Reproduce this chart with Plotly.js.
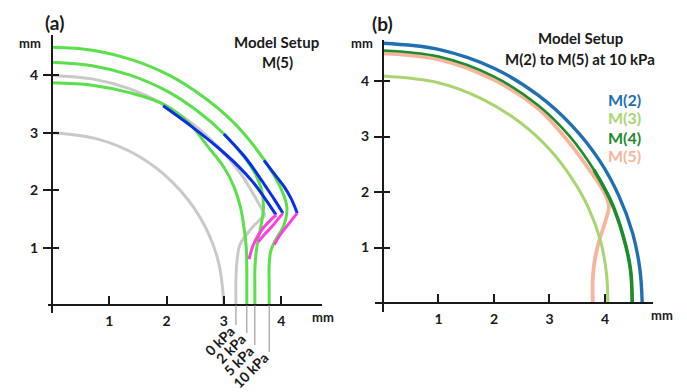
<!DOCTYPE html>
<html><head><meta charset="utf-8">
<script src="https://cdn.plot.ly/plotly-3.0.1.min.js"></script>
<style>html,body{margin:0;padding:0;background:#fff}#chart{width:687px;height:392px}</style>
</head><body><div id="chart"></div>
<script>
// ---------- DATA (mm) ----------
// Panel (a): Model Setup M(5)
const innerGrayX = [0, 0.8, 1.5, 2.1, 2.6, 2.9, 3.0];
const innerGrayY = [3.0, 2.89, 2.6, 2.14, 1.5, 0.77, 0];
const gray0UpX = [0, 0.7, 1.35, 1.94, 2.5, 2.95, 3.3, 3.52, 3.72];
const gray0UpY = [4.0, 3.94, 3.77, 3.5, 3.12, 2.7, 2.28, 1.92, 1.57];
const gray0LoX = [3.72, 3.46, 3.28, 3.23, 3.21, 3.21];
const gray0LoY = [1.57, 1.31, 1.05, 0.78, 0.44, 0];
const g1X = [0, 0.7, 1.35, 1.94, 2.4, 2.72, 3.0, 3.18, 3.29, 3.35, 3.39, 3.40, 3.40, 3.40];
const g1Y = [3.87, 3.83, 3.7, 3.5, 3.16, 2.76, 2.4, 2.05, 1.7, 1.35, 1.0, 0.6, 0.3, 0];
const g2X = [0, 0.7, 1.35, 2.0, 2.55, 3.0, 3.35, 3.55, 3.66, 3.69, 3.66, 3.6, 3.56, 3.54, 3.54, 3.54];
const g2Y = [4.23, 4.17, 4.01, 3.73, 3.37, 2.98, 2.58, 2.28, 2.0, 1.7, 1.45, 1.15, 0.9, 0.6, 0.3, 0];
const g3X = [0, 0.7, 1.4, 2.05, 2.65, 3.15, 3.55, 3.85, 4.03, 4.1, 4.08, 4.02, 3.9, 3.82, 3.79, 3.79, 3.79];
const g3Y = [4.49, 4.44, 4.27, 4.0, 3.62, 3.2, 2.74, 2.3, 1.95, 1.7, 1.5, 1.33, 1.13, 0.95, 0.7, 0.35, 0];
const blue1X = [1.94, 2.45, 2.9, 3.25, 3.5, 3.7, 3.91];
const blue1Y = [3.47, 3.1, 2.74, 2.42, 2.15, 1.88, 1.57];
const pink1X = [3.91, 3.66, 3.51, 3.44];
const pink1Y = [1.57, 1.31, 1.04, 0.8];
const blue2X = [3.0, 3.35, 3.55, 3.72, 3.88, 4.03];
const blue2Y = [2.98, 2.6, 2.33, 2.08, 1.84, 1.6];
const pink2X = [4.03, 3.85, 3.7, 3.6];
const pink2Y = [1.6, 1.38, 1.22, 1.1];
const blue3X = [3.7, 3.9, 4.06, 4.18, 4.28];
const blue3Y = [2.52, 2.26, 2.05, 1.84, 1.6];
const pink3X = [4.28, 4.12, 3.98, 3.88];
const pink3Y = [1.6, 1.4, 1.22, 1.05];
const pressureLabels = ['0 kPa', '2 kPa', '5 kPa', '10 kPa'];

// Panel (b): M(2) to M(5) at 10 kPa
const m2X = [0, 1.0, 2.0, 2.8, 3.4, 3.9, 4.25, 4.5, 4.63, 4.67];
const m2Y = [4.68, 4.57, 4.23, 3.74, 3.2, 2.57, 1.93, 1.25, 0.6, 0];
const m3X = [0, 1.0, 1.8, 2.5, 3.0, 3.4, 3.7, 3.92, 4.03, 4.05];
const m3Y = [4.09, 3.97, 3.67, 3.23, 2.77, 2.25, 1.72, 1.12, 0.5, 0];
const m4X = [0, 1.0, 2.0, 2.8, 3.35, 3.8, 4.1, 4.33, 4.46, 4.49];
const m4Y = [4.55, 4.44, 4.08, 3.56, 3.02, 2.4, 1.85, 1.2, 0.6, 0];
const m5X = [0, 1.0, 2.0, 2.8, 3.3, 3.72, 3.98, 4.07, 4.0, 3.9, 3.82, 3.78, 3.78];
const m5Y = [4.5, 4.39, 4.02, 3.5, 2.96, 2.4, 2.0, 1.75, 1.45, 1.14, 0.8, 0.45, 0];
const modelNames = ['M(2)', 'M(3)', 'M(4)', 'M(5)'];

const tickVals = [1, 2, 3, 4];
const tickText = ['1', '2', '3', '4'];

// ---------- STYLE / LAYOUT ----------
const W = 687, H = 392;
const FONT = 'Lato, "Open Sans", sans-serif';
const INK = '#1a1a1a';
const GREEN = '#5ae04a', BLUE = '#0a2fe6', PINK = '#ff40e0', GRAY = '#c9c9c9';
const C_M2 = '#1f6fb2', C_M3 = '#a9d571', C_M4 = '#1d8c2c', C_M5 = '#f8b59b';

function line(x, y, color, width, xa, ya) {
  return {x: x, y: y, mode: 'lines', type: 'scatter', xaxis: xa, yaxis: ya,
    line: {color: color, width: width, shape: 'spline', smoothing: 1},
    hoverinfo: 'skip', showlegend: false};
}
const traces = [
  line(innerGrayX, innerGrayY, GRAY, 3, 'x', 'y'),
  line(gray0UpX, gray0UpY, GRAY, 3, 'x', 'y'),
  line(gray0LoX, gray0LoY, GRAY, 3, 'x', 'y'),
  line(g1X, g1Y, GREEN, 3, 'x', 'y'),
  line(g2X, g2Y, GREEN, 3, 'x', 'y'),
  line(g3X, g3Y, GREEN, 3, 'x', 'y'),
  line(blue1X, blue1Y, BLUE, 3, 'x', 'y'),
  line(blue2X, blue2Y, BLUE, 3, 'x', 'y'),
  line(blue3X, blue3Y, BLUE, 3, 'x', 'y'),
  line(pink1X, pink1Y, PINK, 3, 'x', 'y'),
  line(pink2X, pink2Y, PINK, 3, 'x', 'y'),
  line(pink3X, pink3Y, PINK, 3, 'x', 'y'),
  line(m5X, m5Y, C_M5, 3.8, 'x2', 'y2'),
  line(m3X, m3Y, C_M3, 3, 'x2', 'y2'),
  line(m4X, m4Y, C_M4, 2.6, 'x2', 'y2'),
  line(m4X.slice(5), m4Y.slice(5), C_M4, 3.6, 'x2', 'y2'),
  line(m2X, m2Y, C_M2, 3.4, 'x2', 'y2'),
  {x: [], y: [], type: 'scatter', xaxis: 'x', yaxis: 'y3', showlegend: false, hoverinfo: 'skip'},
  {x: [], y: [], type: 'scatter', xaxis: 'x2', yaxis: 'y4', showlegend: false, hoverinfo: 'skip'}
];

// panel geometry in pixels
const A = {x0: 48, x1: 322, y0: 313, y1: 35, xr: [-0.070, 4.712], yr: [-0.139, 4.704]};
const B = {x0: 375, x1: 653, y0: 312, y1: 40, xr: [-0.144, 4.865], yr: [-0.162, 4.739]};
function pxX(P, v) { return P.x0 + (v - P.xr[0]) / (P.xr[1] - P.xr[0]) * (P.x1 - P.x0); }
function pxY(P, v) { return P.y0 - (v - P.yr[0]) / (P.yr[1] - P.yr[0]) * (P.y0 - P.y1); }
const tf = {family: FONT, size: 14, color: INK, weight: 'bold'};

function xAxis(P) {
  return {domain: [P.x0 / W, P.x1 / W], range: P.xr, anchor: 'free', position: 1 - pxY(P, 0) / H,
    showline: true, linewidth: 2, linecolor: INK, ticks: 'inside', ticklen: 8, tickwidth: 2, tickcolor: INK,
    tickvals: tickVals, ticktext: tickText, tickfont: tf, showgrid: false, zeroline: false, ticklabelstandoff: 3,
    fixedrange: true};
}
function yAxis(P) {
  return {domain: [1 - P.y0 / H, 1 - P.y1 / H], range: P.yr, anchor: 'free', position: pxX(P, 0) / W,
    showline: true, linewidth: 2, linecolor: INK, ticks: 'outside', ticklen: 8, tickwidth: 2, tickcolor: INK,
    tickvals: tickVals, ticktext: tickText, tickfont: tf, showgrid: false, zeroline: false, ticklabelstandoff: 2,
    fixedrange: true};
}
function yOver(P, over) {
  return {domain: [1 - P.y0 / H, 1 - P.y1 / H], range: P.yr, anchor: 'free', position: pxX(P, 0) / W,
    overlaying: over, showline: false, ticks: 'inside', ticklen: 6, tickwidth: 2, tickcolor: INK,
    tickvals: tickVals, showticklabels: false, showgrid: false, zeroline: false, fixedrange: true};
}

function txt(px, py, text, size, color, extra) {
  return Object.assign({xref: 'paper', yref: 'paper', x: px / W, y: 1 - py / H, text: text,
    showarrow: false, xanchor: 'center', yanchor: 'middle',
    font: {family: FONT, size: size, color: color || INK, weight: 'bold'}}, extra || {});
}

const annotations = [
  txt(54, 23, '(a)', 19), txt(30, 43, 'mm', 13), txt(323, 317, 'mm', 13),
  txt(276, 42, 'Model Setup', 15), txt(277, 62, 'M(5)', 15),
  txt(382, 24, '(b)', 19), txt(362, 43, 'mm', 13), txt(662, 315, 'mm', 13),
  txt(580, 38, 'Model Setup', 15), txt(580, 59, 'M(2) to M(5) at 10 kPa', 15)
];
const modelColors = [C_M2, C_M3, C_M4, C_M5];
const legendY = [100, 118, 137, 155];
modelNames.forEach((n, i) => annotations.push(txt(624, legendY[i], n, 16, modelColors[i])));

// pressure pointer lines + rotated labels (bottom of each contour)
const bottomsX = [gray0LoX[gray0LoX.length - 1], g1X[g1X.length - 1], g2X[g2X.length - 1], g3X[g3X.length - 1]];
const pointerLen = [20, 28, 40, 47];
const shapes = [];
const axisPy = pxY(A, 0);
bottomsX.forEach((bx, i) => {
  const endPy = axisPy + pointerLen[i];
  shapes.push({type: 'line', xref: 'x', yref: 'paper', x0: bx, x1: bx, y0: 1 - axisPy / H, y1: 1 - endPy / H,
    line: {color: '#8a8a8a', width: 1}});
  annotations.push({xref: 'x', yref: 'paper', x: bx, y: 1 - endPy / H, text: pressureLabels[i], showarrow: false,
    textangle: -45, xanchor: 'right', yanchor: 'top', xshift: 5, yshift: 6,
    font: {family: FONT, size: 14, color: INK, weight: 'bold'}});
});

const layout = {
  width: W, height: H, margin: {l: 0, r: 0, t: 0, b: 0},
  paper_bgcolor: '#fff', plot_bgcolor: 'rgba(0,0,0,0)', showlegend: false,
  xaxis: xAxis(A), yaxis: yAxis(A), yaxis3: yOver(A, 'y'),
  xaxis2: xAxis(B), yaxis2: yAxis(B), yaxis4: yOver(B, 'y2'),
  annotations: annotations, shapes: shapes
};
Plotly.newPlot('chart', traces, layout, {staticPlot: true, displayModeBar: false});
</script></body></html>
